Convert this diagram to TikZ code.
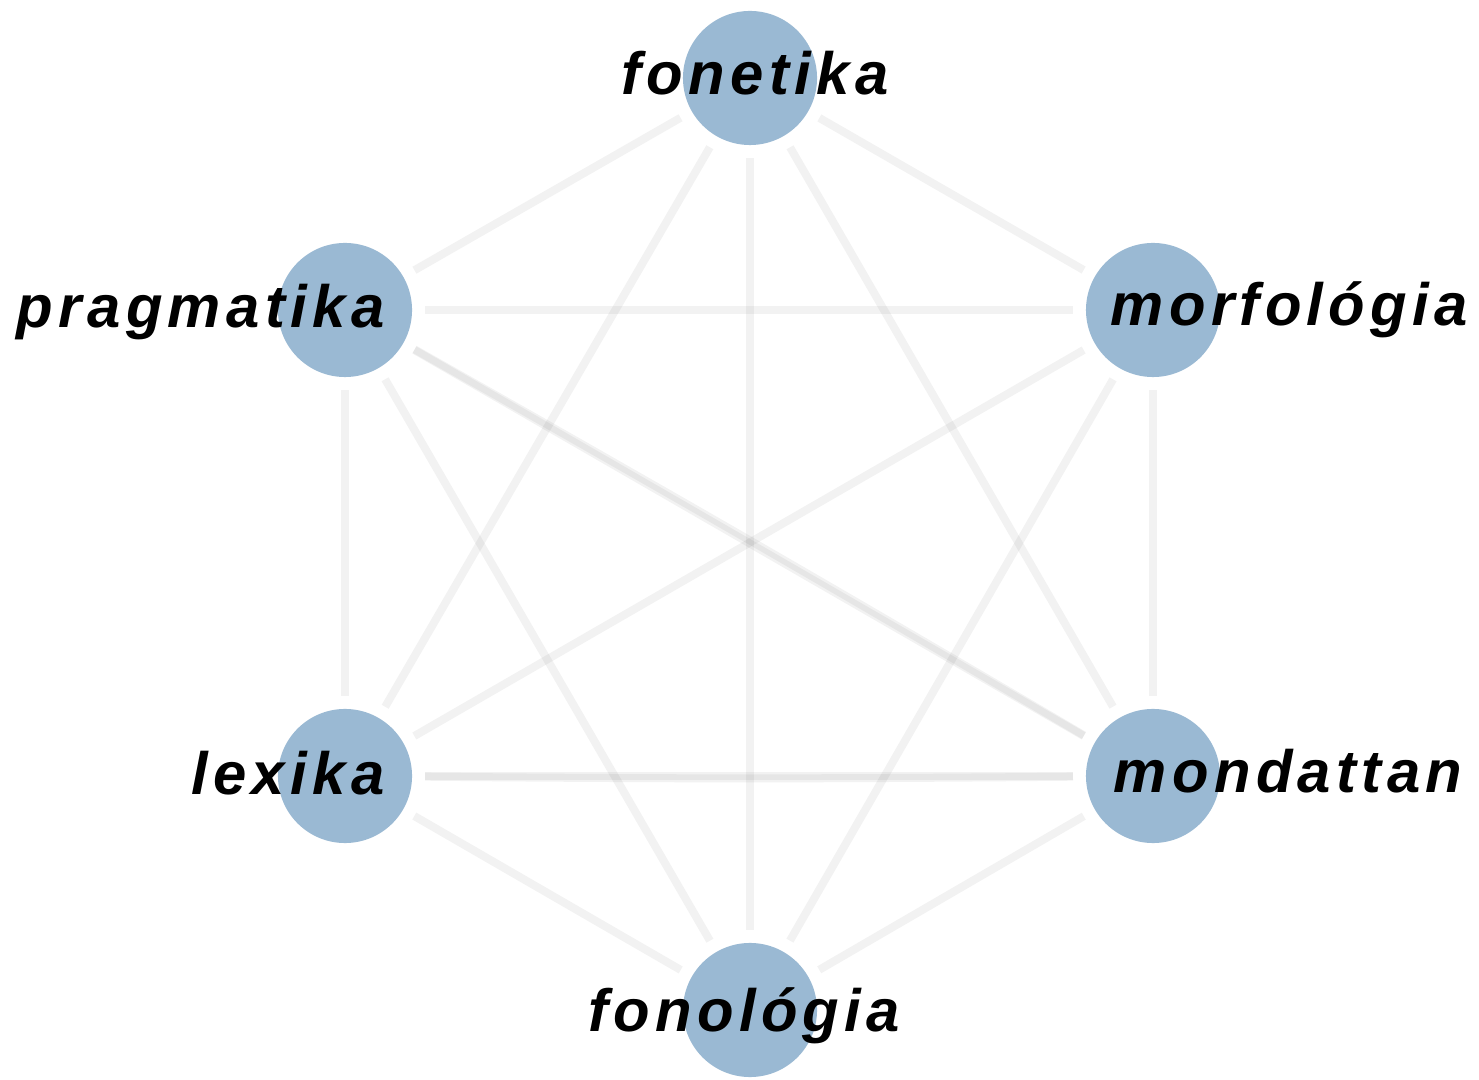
\documentclass[tikz,border=0pt]{standalone}
\usepackage{fontspec}
\usepackage{xcolor}
\usepackage{tikz}
\newfontfamily\lblfont[LetterSpace=9]{Liberation Sans}
\definecolor{nodeblue}{RGB}{154,185,211}
\tikzset{
    topic/.style={circle,fill=nodeblue,minimum size=1.34cm,inner sep=0pt,outer sep=0.13cm},
    lbl/.style={font=\lblfont\fontsize{17}{20}\selectfont\bfseries\itshape,inner sep=0pt},
    link/.style={draw=black,opacity=0.05,line width=0.08cm}
}
\begin{document}
\begin{tikzpicture}[x=0.01cm,y=-0.01cm]
    \useasboundingbox (0,0) rectangle (1479,1080);
    \node[topic] (fon) at (750,78) {};
    \node[topic] (prag) at (345,310) {};
    \node[topic] (morf) at (1153,310) {};
    \node[topic] (lex) at (345,776) {};
    \node[topic] (mond) at (1153,776) {};
    \node[topic] (fonol) at (750,1010) {};
    \draw[link] (fon) -- (prag);
    \draw[link] (fon) -- (morf);
    \draw[link] (fon) -- (lex);
    \draw[link] (fon) -- (mond);
    \draw[link] (fon) -- (fonol);
    \draw[link] (prag) -- (morf);
    \draw[link] (prag) -- (lex);
    \draw[link] (prag) -- (mond);
    \draw[link] (prag) to[bend left=0.5] (mond);
    \draw[link] (prag) -- (fonol);
    \draw[link] (morf) -- (lex);
    \draw[link] (morf) -- (mond);
    \draw[link] (morf) -- (fonol);
    \draw[link] (lex) -- (mond);
    \draw[link] (lex) to[bend right=0.5] (mond);
    \draw[link] (lex) -- (fonol);
    \draw[link] (mond) -- (fonol);
    % labels
    \node[lbl,anchor=base] (fonL) at (755,95) {fonetika};
    \node[lbl,anchor=base east] (pragL) at (385,328) {pragmatika};
    \node[lbl,anchor=base west] (morfL) at (1110,326) {morfológia};
    \node[lbl,anchor=base east] (lexL) at (385,795) {lexika};
    \node[lbl,anchor=base west] (mondL) at (1113,793) {mondattan};
    \node[lbl,anchor=base] (fonolL) at (744,1031) {fonológia};
\end{tikzpicture}
\end{document}
